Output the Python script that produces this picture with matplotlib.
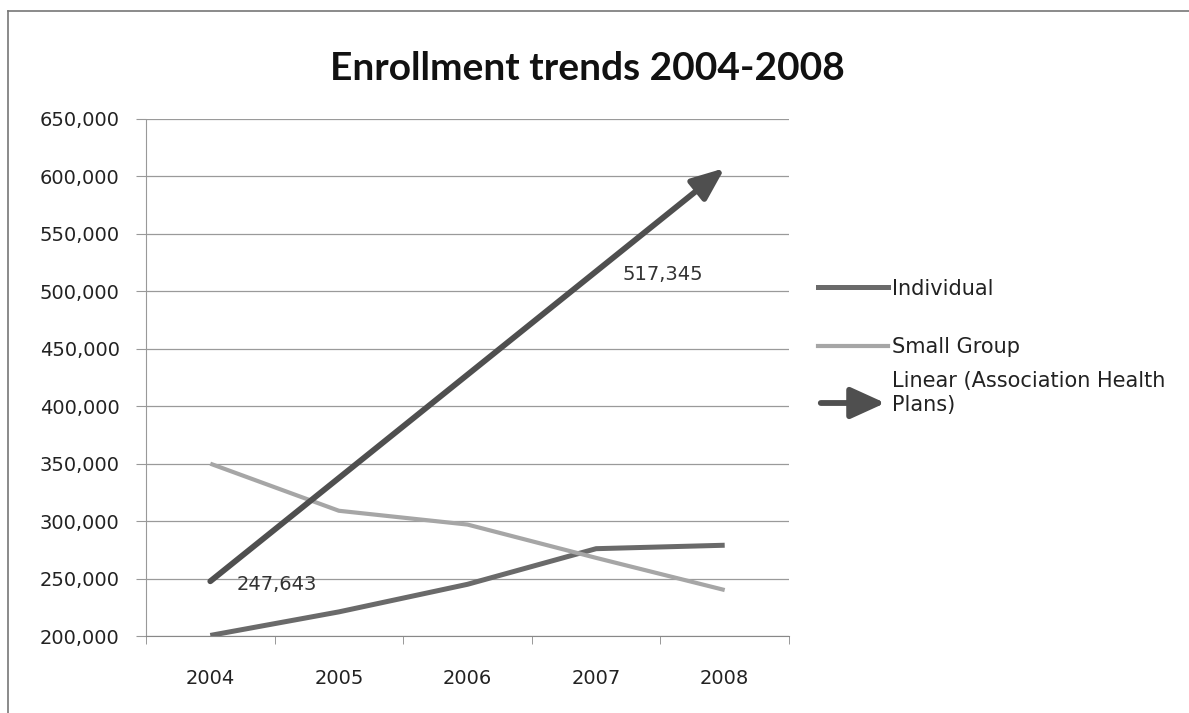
import matplotlib
matplotlib.use("Agg")
import matplotlib.pyplot as plt
from matplotlib.lines import Line2D
from matplotlib.patches import FancyArrowPatch
from matplotlib.ticker import FuncFormatter

# data
years = ['2004', '2005', '2006', '2007', '2008']
individual = [200500, 221000, 245000, 276000, 279000]
small_group = [350000, 309000, 297000, 268000, 240000]
assoc_trend = [247643, 337544, 427444, 517345, 607246]
labelled_points = [0, 3]
y_ticks = [200000, 250000, 300000, 350000, 400000, 450000, 500000, 550000, 600000, 650000]

W, H = 1189, 713
fig = plt.figure(figsize=(W / 100, H / 100), dpi=100)
fig.patch.set_facecolor('white')

# outer border (only top and left visible in the scan)
fig.add_artist(Line2D([8 / W, 1], [1 - 11 / H, 1 - 11 / H], color='#777777', lw=1.2))
fig.add_artist(Line2D([8 / W, 8 / W], [0, 1 - 11 / H], color='#777777', lw=1.2))

ax = fig.add_axes([146 / W, 1 - 636 / H, (789 - 146) / W, (636 - 119) / H])
xs = list(range(len(years)))

ax.plot(xs, individual, color='#6a6a6a', lw=3.6, solid_capstyle='butt', zorder=3)
ax.plot(xs, small_group, color='#a6a6a6', lw=3.0, solid_capstyle='butt', zorder=3)
ax.annotate('', xy=(xs[-1], assoc_trend[-1]), xytext=(xs[0], assoc_trend[0]),
            arrowprops=dict(arrowstyle='-|>,head_length=1.1,head_width=0.45',
                            mutation_scale=18, color='#4f4f4f', lw=4.2,
                            shrinkA=0, shrinkB=0),
            zorder=4)

for i in labelled_points:
    ax.annotate(f'{assoc_trend[i]:,}', xy=(xs[i], assoc_trend[i]), xytext=(19, -2),
                textcoords='offset points', va='center', ha='left',
                fontsize=14, color='#333333', zorder=5)

ax.set_xlim(-0.5, len(years) - 0.5)
ax.set_ylim(y_ticks[0], y_ticks[-1])
ax.set_yticks(y_ticks)
ax.yaxis.set_major_formatter(FuncFormatter(lambda v, p: f'{int(v):,}'))
ax.set_xticks(xs)
ax.set_xticklabels(years)
ax.set_xticks([x - 0.5 for x in xs] + [xs[-1] + 0.5], minor=True)

ax.tick_params(axis='x', which='major', length=0, pad=24, labelsize=14, labelcolor='#222222')
ax.tick_params(axis='x', which='minor', length=6, color='#888888', direction='out')
ax.tick_params(axis='y', length=7, color='#999999', pad=12, labelsize=14, labelcolor='#222222')

ax.grid(axis='y', color='#9a9a9a', lw=0.9)
ax.set_axisbelow(True)
for s in ['top', 'right']:
    ax.spines[s].set_visible(False)
ax.spines['left'].set_color('#999999')
ax.spines['left'].set_linestyle((0, (1, 1)))
ax.spines['bottom'].set_color('#888888')

fig.text(0.494, 1 - 68 / H, 'Enrollment trends 2004-2008', ha='center', va='center',
         fontsize=28, fontweight='bold', family=['Lato', 'DejaVu Sans'],
         color='#111111')

# legend drawn by hand so the arrow sits next to the first line of the wrapped label
x0, x1, xt = 818 / W, 888 / W, 892 / W
rows = [287, 346, 403]
fig.add_artist(Line2D([x0, x1], [1 - rows[0] / H] * 2, color='#6a6a6a', lw=3.6))
fig.add_artist(Line2D([x0, x1], [1 - rows[1] / H] * 2, color='#a6a6a6', lw=3.0))
fig.add_artist(FancyArrowPatch((x0, 1 - rows[2] / H), (x1, 1 - rows[2] / H),
                               transform=fig.transFigure,
                               arrowstyle='-|>,head_length=1.1,head_width=0.5',
                               mutation_scale=19, color='#4f4f4f', lw=4.2))
labels = ['Individual', 'Small Group', 'Linear (Association Health\nPlans)']
for r, lab in zip(rows, labels):
    fig.text(xt, 1 - (r + 7.5) / H, lab, va='baseline', ha='left', fontsize=15,
             color='#222222', linespacing=1.25)

fig.savefig('out.png', dpi=100)
